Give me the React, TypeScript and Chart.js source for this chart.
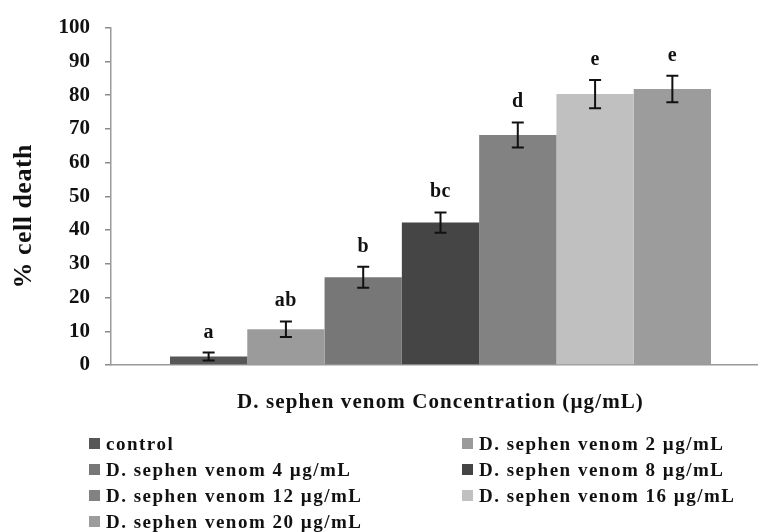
import React, { useEffect, useRef } from "react";
import { Chart, registerables } from "chart.js";

Chart.register(...registerables);

const categories = ["D. sephen venom Concentration (µg/mL)"];
const seriesNames = [
  "control",
  "D. sephen venom 2 µg/mL",
  "D. sephen venom 4 µg/mL",
  "D. sephen venom 8 µg/mL",
  "D. sephen venom 12 µg/mL",
  "D. sephen venom 16 µg/mL",
  "D. sephen venom 20 µg/mL",
];
const meanValues = [2.5, 10.6, 26.0, 42.2, 68.2, 80.3, 81.8];
const errorValues = [1.2, 2.3, 3.1, 3.0, 3.7, 4.2, 3.9];
const letterLabels = ["a", "ab", "b", "bc", "d", "e", "e"];
const barColors = ["#575757", "#9b9b9b", "#777777", "#454545", "#828282", "#c0c0c0", "#9c9c9c"];
const yAxisTitle = "% cell death";
const xAxisTitle = "D. sephen venom Concentration (µg/mL)";

const SERIF = "'Liberation Serif', 'Times New Roman', serif";

const annotatePlugin = {
  id: "annotate",
  beforeDraw(chart: any) {
    chart.ctx.letterSpacing = "0px";
  },
  afterDatasetsDraw(chart: any) {
    const ctx = chart.ctx as CanvasRenderingContext2D;
    const yScale = chart.scales.y;
    ctx.save();
    chart.data.datasets.forEach((_ds: any, i: number) => {
      const bar = chart.getDatasetMeta(i).data[0];
      const v = meanValues[i];
      const e = errorValues[i];
      const top = yScale.getPixelForValue(v + e);
      const bot = yScale.getPixelForValue(v - e);
      ctx.strokeStyle = "#111";
      ctx.lineWidth = 2;
      ctx.beginPath();
      ctx.moveTo(bar.x, top);
      ctx.lineTo(bar.x, bot);
      ctx.moveTo(bar.x - 6, top);
      ctx.lineTo(bar.x + 6, top);
      ctx.moveTo(bar.x - 6, bot);
      ctx.lineTo(bar.x + 6, bot);
      ctx.stroke();
      ctx.font = `bold 20px ${SERIF}`;
      ctx.textAlign = "center";
      ctx.textBaseline = "alphabetic";
      ctx.fillStyle = "#111";
      (ctx as any).letterSpacing = "0.5px";
      ctx.fillText(letterLabels[i], bar.x, top - 15);
      (ctx as any).letterSpacing = "0px";
    });
    ctx.restore();
  },
  afterDraw(chart: any) {
    const ctx = chart.ctx as CanvasRenderingContext2D;
    const area = chart.chartArea;
    const cx = (area.left + area.right) / 2;
    const cy = (area.top + area.bottom) / 2;
    ctx.save();
    ctx.fillStyle = "#111";
    // x-axis title
    ctx.font = `bold 21px ${SERIF}`;
    (ctx as any).letterSpacing = "1.1px";
    ctx.textAlign = "center";
    ctx.textBaseline = "alphabetic";
    ctx.fillText(xAxisTitle, cx, area.bottom + 43);
    // y-axis title
    ctx.save();
    (ctx as any).letterSpacing = "0.5px";
    ctx.translate(24, cy + 20);
    ctx.rotate(-Math.PI / 2);
    ctx.font = `bold 26px ${SERIF}`;
    ctx.textBaseline = "middle";
    ctx.fillText(yAxisTitle, 0, 0);
    ctx.restore();
    // legend (two columns, row-major)
    ctx.font = `bold 19px ${SERIF}`;
    (ctx as any).letterSpacing = "1.5px";
    ctx.textAlign = "left";
    ctx.textBaseline = "alphabetic";
    const colX = [89, 462];
    seriesNames.forEach((name, i) => {
      const col = i % 2;
      const row = Math.floor(i / 2);
      const base = area.bottom + 85 + row * 26;
      ctx.fillStyle = barColors[i];
      ctx.fillRect(colX[col], base - 12, 11, 11);
      ctx.fillStyle = "#111";
      ctx.fillText(name, colX[col] + 17, base);
    });
    (ctx as any).letterSpacing = "0px";
    ctx.restore();
  },
};

export default function App() {
  const ref = useRef<HTMLCanvasElement>(null);
  useEffect(() => {
    const chart = new Chart(ref.current as HTMLCanvasElement, {
      type: "bar",
      data: {
        labels: categories,
        datasets: seriesNames.map((name, i) => ({
          label: name,
          data: [meanValues[i]],
          backgroundColor: barColors[i],
          borderWidth: 0,
          categoryPercentage: 0.821,
          barPercentage: 1,
        })),
      },
      options: {
        animation: false,
        responsive: false,
        events: [],
        layout: { padding: { left: 0, right: 0, top: 24, bottom: 0 } },
        plugins: { legend: { display: false }, tooltip: { enabled: false } },
        scales: {
          x: {
            ticks: { display: false },
            grid: { display: false },
            border: { display: true, color: "#9a9a9a", width: 1.5 },
            afterFit: (scale: any) => {
              scale.height = 167;
            },
          },
          y: {
            min: 0,
            max: 100,
            ticks: {
              stepSize: 10,
              padding: 15,
              color: "#111",
              font: { family: SERIF, size: 21, weight: "bold" },
            },
            grid: {
              drawOnChartArea: false,
              drawTicks: true,
              tickLength: 6,
              color: "#8a8a8a",
              lineWidth: 1.5,
            },
            border: { display: true, color: "#9a9a9a", width: 1.5 },
            afterFit: (scale: any) => {
              scale.width = 111;
            },
          },
        },
      },
      plugins: [annotatePlugin],
    } as any);
    return () => chart.destroy();
  }, []);
  return (
    <div
      style={{
        position: "fixed",
        left: 0,
        top: 0,
        width: 758,
        height: 532,
        overflow: "hidden",
        background: "#fff",
      }}
    >
      <canvas ref={ref} width={770} height={532} style={{ display: "block", width: 770, height: 532 }} />
    </div>
  );
}
